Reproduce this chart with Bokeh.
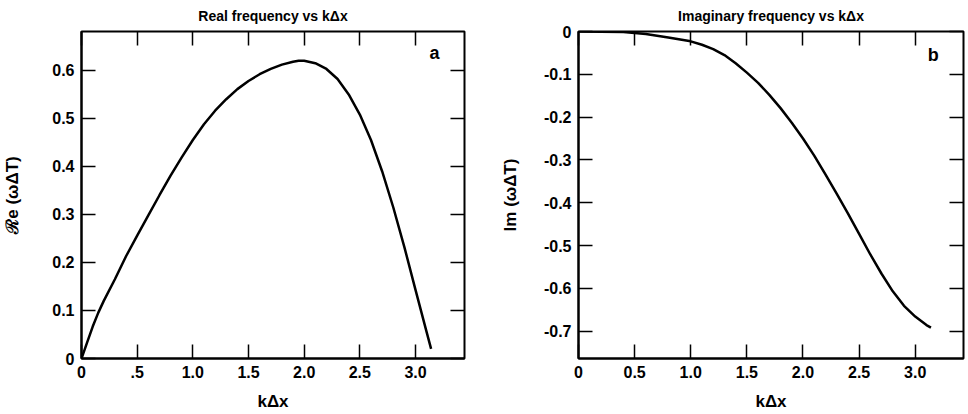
from bokeh.plotting import figure
from bokeh.layouts import row
from bokeh.models import LinearAxis, FixedTicker, Range1d, Label, CustomLabelingPolicy
from bokeh.embed import file_html
from bokeh.resources import INLINE

# ---- data ----
re_k = [0.0, 0.05, 0.1, 0.15, 0.2, 0.3, 0.4, 0.5, 0.6, 0.7, 0.8, 0.9, 1.0, 1.1, 1.2,
        1.3, 1.4, 1.5, 1.6, 1.7, 1.8, 1.9, 1.95, 2.0, 2.1, 2.2, 2.3, 2.4, 2.5, 2.6, 2.7,
        2.8, 2.9, 3.0, 3.1, 3.14]
re_w = [0.0, 0.033, 0.066, 0.095, 0.12, 0.165, 0.213, 0.256, 0.298, 0.34, 0.381, 0.419,
        0.455, 0.488, 0.516, 0.540, 0.561, 0.578, 0.592, 0.603, 0.612, 0.618, 0.620,
        0.620, 0.615, 0.603, 0.582, 0.550, 0.508, 0.455, 0.390, 0.315, 0.232, 0.143,
        0.055, 0.02]

im_k = [0.0, 0.4, 0.6, 0.8, 1.0, 1.1, 1.2, 1.3, 1.4, 1.5, 1.6, 1.7, 1.8, 1.9, 2.0,
        2.1, 2.2, 2.3, 2.4, 2.5, 2.6, 2.7, 2.8, 2.9, 3.0, 3.1, 3.14]
im_w = [0.0, -0.001, -0.006, -0.014, -0.023, -0.031, -0.041, -0.055, -0.074, -0.096,
        -0.120, -0.148, -0.179, -0.213, -0.250, -0.290, -0.334, -0.379, -0.425,
        -0.473, -0.521, -0.566, -0.607, -0.641, -0.666, -0.686, -0.692]

x_ticks = [0, 0.5, 1.0, 1.5, 2.0, 2.5, 3.0]
x_labels_a = ["0", ".5", "1.0", "1.5", "2.0", "2.5", "3.0"]
x_labels_b = ["0", "0.5", "1.0", "1.5", "2.0", "2.5", "3.0"]
y_ticks_a = [0, 0.1, 0.2, 0.3, 0.4, 0.5, 0.6]
y_labels_a = ["0", "0.1", "0.2", "0.3", "0.4", "0.5", "0.6"]
y_ticks_b = [0, -0.1, -0.2, -0.3, -0.4, -0.5, -0.6, -0.7]
y_labels_b = ["0", "-0.1", "-0.2", "-0.3", "-0.4", "-0.5", "-0.6", "-0.7"]

FONT = "Liberation Sans"

NO_LABELS = """
for (const i of indices)
    indices.unset(i)
return indices
"""


def style_axis(ax, ticks, labels, show_labels=True):
    ax.ticker = FixedTicker(ticks=ticks)
    ax.major_label_overrides = {t: l for t, l in zip(ticks, labels)}
    ax.major_tick_in = 14
    ax.major_tick_out = 0
    ax.minor_tick_line_color = None
    ax.major_tick_line_color = "black"
    ax.major_tick_line_width = 1.5
    ax.axis_line_color = "black"
    ax.axis_line_width = 2
    ax.major_label_text_font = FONT
    ax.major_label_text_font_style = "bold"
    ax.major_label_text_color = "black"
    if show_labels:
        ax.major_label_text_font_size = "16px"
        ax.major_label_standoff = 7
    else:
        ax.major_label_text_font_size = "2px"
        ax.major_label_standoff = 0
        ax.major_label_policy = CustomLabelingPolicy(code=NO_LABELS)
        ax.axis_line_color = None
    ax.axis_label_text_font = FONT
    ax.axis_label_text_font_style = "bold"
    ax.axis_label_text_font_size = "17px"
    ax.axis_label_text_color = "black"


def make_fig(title, xr, yr, mbl, mbr, fw):
    p = figure(frame_width=fw, frame_height=327, x_range=Range1d(*xr), y_range=Range1d(*yr),
               output_backend="svg", toolbar_location=None,
               min_border_left=mbl, min_border_right=mbr, min_border_top=31, min_border_bottom=52)
    p.title.text = title
    p.title.align = "center"
    p.title.text_font = FONT
    p.title.text_font_style = "bold"
    p.title.text_font_size = "14px"
    p.title.text_color = "black"
    p.title.standoff = 8
    p.grid.visible = False
    p.outline_line_color = "black"
    p.outline_line_width = 2
    p.background_fill_color = "white"
    p.border_fill_color = "white"
    return p


# ---- panel a ----
pa = make_fig("Real frequency vs k\u0394x", (0, 3.44), (0, 0.681), 78, 9, 383)
pa.line(re_k, re_w, line_color="black", line_width=2.5)
style_axis(pa.xaxis[0], x_ticks, x_labels_a)
style_axis(pa.yaxis[0], y_ticks_a, y_labels_a)
pa.xaxis[0].axis_label = "k\u0394x"
pa.xaxis[0].axis_label_standoff = 11
pa.yaxis[0].axis_label = "\u211Be (\u03c9\u0394T)"
pa.yaxis[0].axis_label_standoff = 27
ta = LinearAxis(); style_axis(ta, x_ticks, x_labels_a, False); pa.add_layout(ta, "above")
ra = LinearAxis(); style_axis(ra, y_ticks_a, y_labels_a, False); pa.add_layout(ra, "right")
pa.add_layout(Label(x=3.17, y=0.637, text="a", text_font=FONT, text_font_style="bold",
                    text_font_size="18px", text_color="black",
                    text_align="center", text_baseline="middle"))

# ---- panel b ----
pb = make_fig("Imaginary frequency vs k\u0394x", (0, 3.43), (-0.764, 0), 105, 0, 385)
pb.line(im_k, im_w, line_color="black", line_width=2.5)
style_axis(pb.xaxis[0], x_ticks, x_labels_b)
style_axis(pb.yaxis[0], y_ticks_b, y_labels_b)
pb.xaxis[0].axis_label = "k\u0394x"
pb.xaxis[0].axis_label_standoff = 11
pb.yaxis[0].axis_label = "Im (\u03c9\u0394T)"
pb.yaxis[0].axis_label_standoff = 21
tb = LinearAxis(); style_axis(tb, x_ticks, x_labels_b, False); pb.add_layout(tb, "above")
rb = LinearAxis(); style_axis(rb, y_ticks_b, y_labels_b, False); pb.add_layout(rb, "right")
pb.add_layout(Label(x=3.16, y=-0.055, text="b", text_font=FONT, text_font_style="bold",
                    text_font_size="18px", text_color="black",
                    text_align="center", text_baseline="middle"))

layout = row(pa, pb)
open("out.html", "w").write(file_html(layout, INLINE))
